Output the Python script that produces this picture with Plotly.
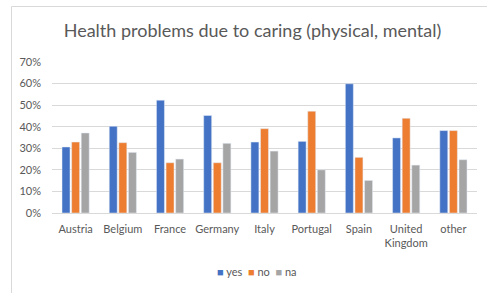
import plotly.graph_objects as go

categories = ["Austria", "Belgium", "France", "Germany", "Italy", "Portugal", "Spain", "United<br>Kingdom", "other"]
series_names = ["yes", "no", "na"]
yes_vals = [0.306, 0.402, 0.523, 0.452, 0.329, 0.332, 0.599, 0.348, 0.382]
no_vals = [0.329, 0.326, 0.233, 0.233, 0.391, 0.472, 0.258, 0.439, 0.382]
na_vals = [0.371, 0.281, 0.250, 0.323, 0.287, 0.200, 0.151, 0.222, 0.247]
tick_vals = [0, 0.1, 0.2, 0.3, 0.4, 0.5, 0.6, 0.7]
tick_text = ["0%", "10%", "20%", "30%", "40%", "50%", "60%", "70%"]
colors = ["#4472C4", "#ED7D31", "#A5A5A5"]

FONT = "Lato"
GRAY = "#595959"

fig = go.Figure()
for name, vals, col in zip(series_names, [yes_vals, no_vals, na_vals], colors):
    fig.add_trace(go.Bar(name=name, x=categories, y=vals, marker_color=col))

W, H = 487, 293
ML, MR, MT, MB = 52, 10, 62, 80
PW, PH = W - ML - MR, H - MT - MB

legend_text = "&nbsp;&nbsp;".join(
    f"<span style='color:{c}'>■</span> {n}" for n, c in zip(series_names, colors))

fig.update_layout(
    width=W, height=H,
    margin=dict(l=ML, r=MR, t=MT, b=MB),
    paper_bgcolor="white", plot_bgcolor="white",
    barmode="group", bargap=0.39, bargroupgap=0.17,
    font=dict(family=FONT, color=GRAY, size=11),
    title=dict(text="Health problems due to caring (physical, mental)",
               x=252.5 / W, xanchor="center", y=1 - 31 / H, yanchor="middle",
               font=dict(family=FONT, size=18, color=GRAY)),
    showlegend=False,
)
fig.add_annotation(text=legend_text, xref="paper", yref="paper",
                   x=(256 - ML) / PW, y=(H - MB - 271) / PH, xanchor="center", yanchor="middle",
                   showarrow=False, font=dict(size=11, color=GRAY, family=FONT))
fig.update_yaxes(range=[0, 0.7], tickvals=tick_vals, ticktext=tick_text,
                 showgrid=True, gridcolor="#D9D9D9", gridwidth=1, zeroline=True,
                 zerolinecolor="#D9D9D9", zerolinewidth=1, ticks="", ticklabelstandoff=10,
                 tickfont=dict(size=11, color=GRAY))
fig.update_xaxes(showgrid=False, ticks="", showline=False, ticklabelstandoff=8,
                 tickfont=dict(size=11, color=GRAY))
top = 1 + (MT - 6.5) / PH
left = -(ML - 11.5) / PW
fig.add_shape(type="line", xref="paper", yref="paper",
              x0=left, x1=1 + 20 / PW, y0=top, y1=top,
              line=dict(color="#D9D9D9", width=1))
fig.add_shape(type="line", xref="paper", yref="paper",
              x0=left, x1=left, y0=top, y1=-(MB + 10) / PH,
              line=dict(color="#D9D9D9", width=1))
fig.write_html("out.html", config={"displayModeBar": False},
               post_script="document.body.style.margin='0';")
